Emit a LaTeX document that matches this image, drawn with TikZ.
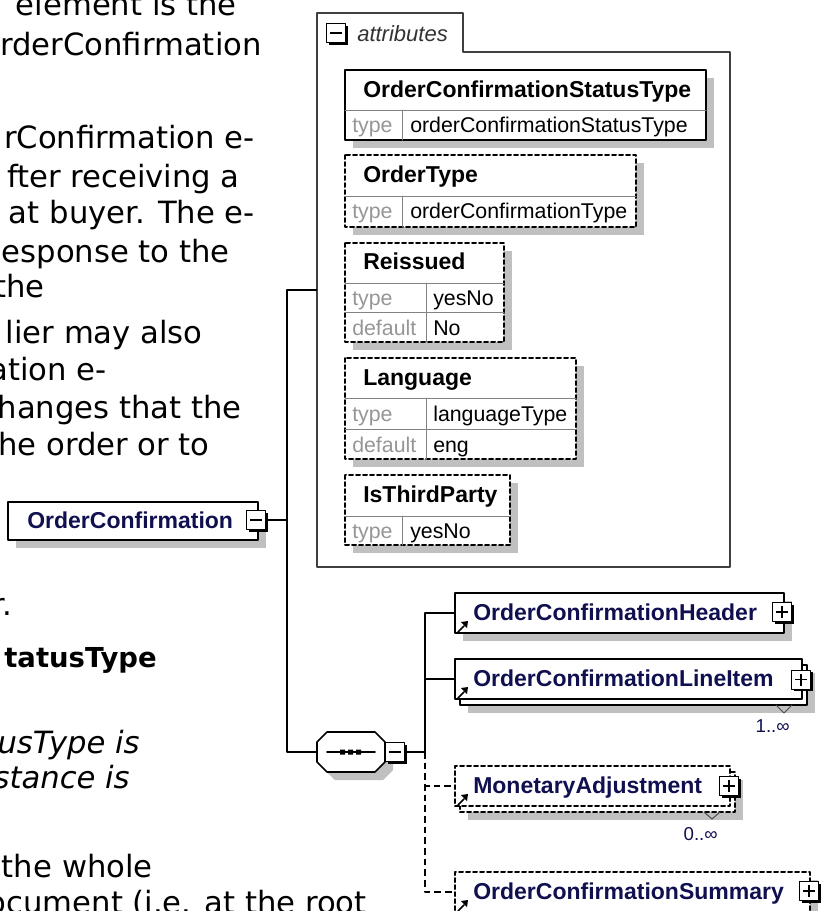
\documentclass[tikz,border=0pt]{standalone}
\usepackage{fontspec}
\setmainfont{DejaVu Sans}
\newfontfamily\xsdfont{Liberation Sans}
\usepackage{tikz}
\usetikzlibrary{arrows}

\definecolor{schatten}{RGB}{192,192,192}
\definecolor{marine}{RGB}{16,16,80}
\definecolor{grautext}{RGB}{150,150,150}
\definecolor{teiler}{RGB}{130,130,130}

\begin{document}
\begin{tikzpicture}[line cap=round,line join=round,>=triangle 45,x=0.75pt,y=-0.75pt,
		fliess/.style={font=\fontsize{23}{28}\selectfont,inner sep=0pt,anchor=base east},
		elem/.style={draw=black,fill=white,line width=1.5pt,inner sep=0pt,minimum height=30pt},
		schatt/.style={preaction={fill=schatten,transform canvas={shift={(6pt,-6pt)}}}},
		optional/.style={dash pattern=on 3pt off 2.25pt},
		attrbox/.style={draw=black,fill=white,line width=1.5pt,schatt},
		teilerlinie/.style={teiler,line width=0.75pt},
		verbinder/.style={line width=1.3pt,line cap=butt},
		gestrichelt/.style={dash pattern=on 5pt off 3pt},
		elemname/.style={font=\xsdfont\bfseries\fontsize{17.25}{20}\selectfont,text=marine,inner sep=0pt,anchor=base west},
		attrname/.style={elemname,text=black},
		typlabel/.style={font=\xsdfont\fontsize{16}{19}\selectfont,text=grautext,inner sep=0pt,anchor=base west},
		typwert/.style={typlabel,text=black},
		zahl/.style={font=\xsdfont\fontsize{14}{17}\selectfont,text=marine,inner sep=0pt,anchor=base east},
		knopf/.style={draw=black,fill=white,line width=0.75pt,minimum size=14.25pt,inner sep=0pt,
			preaction={fill=black,transform canvas={shift={(1.5pt,-1.5pt)}}}},
		minusknopf/.style={knopf,path picture={\draw[line width=1.1pt,line cap=butt]
			([xshift=-4.5pt]path picture bounding box.center) -- ([xshift=4.5pt]path picture bounding box.center);}},
		plusknopf/.style={knopf,path picture={\draw[line width=1.1pt,line cap=butt]
			([xshift=-4.5pt]path picture bounding box.center) -- ([xshift=4.5pt]path picture bounding box.center)
			([yshift=-4.5pt]path picture bounding box.center) -- ([yshift=4.5pt]path picture bounding box.center);}}]
		\fill[white] (0,0) rectangle (822,911);
		\useasboundingbox (0,0) rectangle (822,911);

		% Fliesstext links
		\node[fliess] (t1) at (237,15) {element is the};
		\node[fliess] (t2) at (262,55) {rderConfirmation};
		\node[fliess] (t3) at (255,148) {rConfirmation e-};
		\node[fliess] (t4) at (240,187) {fter receiving a};
		\node[fliess] (t5) at (255,223) {at buyer. The e-};
		\node[fliess] (t6) at (230,262) {esponse to the};
		\node[fliess] (t7) at (45,297) {the};
		\node[fliess] (t8) at (203,343) {lier may also};
		\node[fliess] (t9) at (107,380) {ation e-};
		\node[fliess] (t10) at (242,418) {hanges that the};
		\node[fliess] (t11) at (210,455) {he order or to};
		\node[fliess] (t12) at (12,615) {r.};
		\node[fliess,font=\bfseries\fontsize{20.6}{25}\selectfont] (t13) at (157,667) {tatusType};
		\node[fliess,font=\itshape\fontsize{23}{28}\selectfont] (t14) at (140,753) {usType is};
		\node[fliess,font=\itshape\fontsize{23}{28}\selectfont] (t15) at (130,788) {stance is};
		\node[fliess] (t16) at (153,877) {f the whole};
		\node[fliess] (t17) at (367,913) {ocument (i.e. at the root};

		% Attribute
		\draw[black!75,line width=1.5pt] (317,567) -- (317,13) -- (463,13) -- (463,52) -- (730,52) -- (730,567) -- cycle;
		\node[minusknopf] (attrknopf) at (336,33) {};
		\node[font=\xsdfont\itshape\fontsize{16.5}{20}\selectfont,text=black!80,inner sep=0pt,anchor=base west] (attrtitel) at (357,41) {attributes};

		\draw[attrbox] (345,70) rectangle (706,140);
		\draw[teilerlinie] (345,110) -- (706,110) (402,110) -- (402,140);
		\node[attrname] (statusname) at (363,97) {OrderConfirmationStatusType};
		\node[typlabel] (statustyp) at (352,132) {type};
		\node[typwert] (statuswert) at (410,132) {orderConfirmationStatusType};

		\draw[attrbox,optional] (345,155) rectangle (636,227);
		\draw[teilerlinie] (345,196) -- (636,196) (402,196) -- (402,227);
		\node[attrname] (ordername) at (363,182) {OrderType};
		\node[typlabel] (ordertyp) at (352,218) {type};
		\node[typwert] (orderwert) at (410,218) {orderConfirmationType};

		\draw[attrbox,optional] (345,243) rectangle (504,342);
		\draw[teilerlinie] (345,283) -- (504,283) (345,312) -- (504,312) (426,283) -- (426,342);
		\node[attrname] (neuname) at (363,269) {Reissued};
		\node[typlabel] (neutyp) at (352,305) {type};
		\node[typwert] (neuwert) at (433,305) {yesNo};
		\node[typlabel] (neustd) at (352,335) {default};
		\node[typwert] (neustdwert) at (433,335) {No};

		\draw[attrbox,optional] (345,358) rectangle (576,459);
		\draw[teilerlinie] (345,398) -- (576,398) (345,429) -- (576,429) (426,398) -- (426,459);
		\node[attrname] (sprachname) at (363,385) {Language};
		\node[typlabel] (sprachtyp) at (352,421) {type};
		\node[typwert] (sprachwert) at (433,421) {languageType};
		\node[typlabel] (sprachstd) at (352,452) {default};
		\node[typwert] (sprachstdwert) at (433,452) {eng};

		\draw[attrbox,optional] (345,475) rectangle (510,545);
		\draw[teilerlinie] (345,516) -- (510,516) (402,516) -- (402,545);
		\node[attrname] (drittname) at (363,502) {IsThirdParty};
		\node[typlabel] (dritttyp) at (352,538) {type};
		\node[typwert] (drittwert) at (410,538) {yesNo};

		% Wurzelelement
		\node[elem,schatt,minimum width=187.5pt,minimum height=28.5pt] (wurzel) at (133,521) {};
		\node[elemname] (wurzelname) at (27,528) {OrderConfirmation};
		\node[minusknopf] (wurzelknopf) at (256,520) {};

		\coordinate (stamm) at (287,520);
		\coordinate (attrlinks) at (317,290);
		\coordinate (seqlinks) at (317,752);
		\draw[verbinder] (wurzelknopf.east) -- (stamm);
		\draw[verbinder] (attrlinks) -| (stamm) |- (seqlinks);

		% Sequenz
		\draw[line width=1.2pt,fill=white,schatt] (317,742) -- (327,732) -- (375,732) -- (385,742) -- (385,762) -- (375,772) -- (327,772) -- (317,762) -- cycle;
		\draw[line width=1.2pt] (327,752) -- (375,752);
		\fill (340,749.5) rectangle (345,754.5) (348,749.5) rectangle (353,754.5) (356,749.5) rectangle (361,754.5);
		\node[minusknopf] (seqknopf) at (395,752) {};
		\coordinate (kamm) at (425,752);
		\draw[verbinder] (seqknopf.east) -- (kamm);

		% Kindelemente
		\node[elem,schatt,minimum width=246.75pt] (kopf) at (619.5,613) {};
		\node[elemname] (kopfname) at (473,620) {OrderConfirmationHeader};
		\node[plusknopf] (kopfknopf) at (782,612) {};

		\node[elem,schatt,minimum width=260.25pt] (postenhinten) at (633.5,685) {};
		\node[elem,minimum width=260.25pt] (posten) at (628.5,679) {};
		\node[elemname] (postenname) at (473,686) {OrderConfirmationLineItem};
		\node[plusknopf] (postenknopf) at (801,679.5) {};
		\draw[black!70,line width=0.75pt] (776,705) -- (784,713) -- (792,705);
		\node[zahl] (postenzahl) at (790,732) {1..∞};

		\node[elem,optional,schatt,minimum width=206.25pt] (ausgleichhinten) at (597.5,792) {};
		\node[elem,optional,minimum width=206.25pt] (ausgleich) at (592.5,786) {};
		\node[elemname] (ausgleichname) at (473,793) {MonetaryAdjustment};
		\node[plusknopf] (ausgleichknopf) at (729,786) {};
		\draw[black!70,line width=0.75pt] (704,812) -- (712,819) -- (720,812);
		\node[zahl] (ausgleichzahl) at (718,840) {0..∞};

		\node[elem,optional,schatt,minimum width=266.25pt] (summe) at (632.5,892) {};
		\node[elemname] (summename) at (473,899) {OrderConfirmationSummary};
		\node[plusknopf] (summeknopf) at (809,891) {};

		\draw[verbinder] (kamm) |- (kopf.west);
		\draw[verbinder] (kamm) |- (posten.west);
		\draw[verbinder,gestrichelt] (kamm) |- (summe.west);
		\draw[verbinder,gestrichelt] (kamm) |- (ausgleich.west);

		% Verweis-Pfeile
		\draw[line width=1.3pt] ([shift={(4,-2)}]kopf.south west) -- ++(6,-6);
		\fill ([shift={(14,-13)}]kopf.south west) -- ++(-7,1) -- ++(6,6) -- cycle;
		\draw[line width=1.3pt] ([shift={(4,-2)}]posten.south west) -- ++(6,-6);
		\fill ([shift={(14,-13)}]posten.south west) -- ++(-7,1) -- ++(6,6) -- cycle;
		\draw[line width=1.3pt] ([shift={(4,-2)}]ausgleich.south west) -- ++(6,-6);
		\fill ([shift={(14,-13)}]ausgleich.south west) -- ++(-7,1) -- ++(6,6) -- cycle;
		\draw[line width=1.3pt] ([shift={(4,-2)}]summe.south west) -- ++(6,-6);
		\fill ([shift={(14,-13)}]summe.south west) -- ++(-7,1) -- ++(6,6) -- cycle;
	\end{tikzpicture}
\end{document}
